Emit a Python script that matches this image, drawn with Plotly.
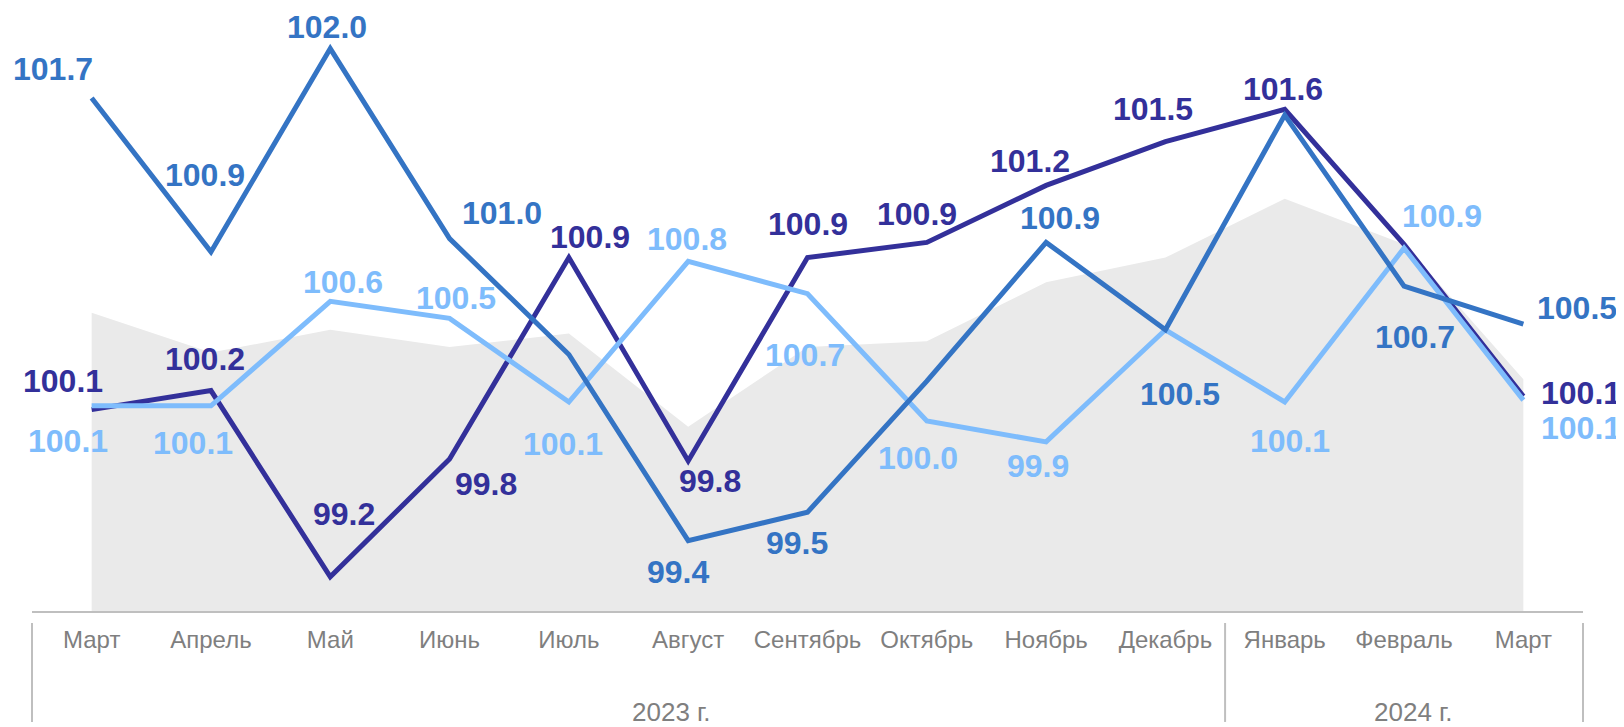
import plotly.graph_objects as go

# ---------------- data ----------------
months = ["Март", "Апрель", "Май", "Июнь", "Июль", "Август", "Сентябрь",
          "Октябрь", "Ноябрь", "Декабрь", "Январь", "Февраль", "Март"]
years = ["2023 г.", "2024 г."]
year_month_counts = [10, 3]

series_dark = [100.06, 100.16, 99.18, 99.80, 100.86, 99.79, 100.86,
               100.94, 101.24, 101.47, 101.64, 100.93, 100.13]
series_medium = [101.70, 100.89, 101.96, 100.96, 100.35, 99.37, 99.52,
                 100.21, 100.94, 100.48, 101.61, 100.71, 100.51]
series_light = [100.08, 100.08, 100.63, 100.54, 100.10, 100.84, 100.67,
                100.00, 99.89, 100.48, 100.10, 100.91, 100.11]
series_background = [100.57, 100.36, 100.48, 100.39, 100.46, 99.97, 100.39,
                     100.42, 100.73, 100.86, 101.17, 100.93, 100.22]

# ---------------- styling / layout ----------------
FONT = "Liberation Sans, Arial, sans-serif"
C_DARK = "#33309A"
C_MED = "#3474C4"
C_LIGHT = "#7EBCFC"
C_AREA = "#EAEAEA"
C_AXIS = "#BFBFBF"
C_TEXT = "#7F7F7F"

# the page body has an 8px default margin, so the figure is 8px smaller
W, H = 1616, 719
M_L, M_R, M_T, M_B = 24, 41, 0, 116
Y_MIN = 99.0
PX_PER_UNIT = 190.0
plot_h = H - M_T - M_B
Y_MAX = Y_MIN + plot_h / PX_PER_UNIT

# label offsets in pixels (dx right, dy down) relative to each point; None = no label
OFF_DARK = [(-29, -30), (-6, -33), (14, -64), (36, 24), (21, -22), (22, 19), (0, -35),
            (-10, -29), (-16, -25), (-12, -34), (-2, -21), None, (58, -4)]
OFF_MED = [(-39, -30), (-6, -78), (-3, -23), (52, -27), None, (-10, 30), (-11, 30),
           None, (14, -25), (15, 63), None, (11, 50), (54, -17)]
OFF_LIGHT = [(-24, 34), (-18, 36), (13, -20), (6, -21), (-6, 41), (-1, -23), (-3, 60),
             (-9, 36), (-8, 23), None, (5, 38), (38, -33), (58, 27)]
LABEL_SIZE = 32
LABEL_VSHIFT = -1  # compensate text box vs. cap-height centre

x = list(range(len(months)))

fig = go.Figure()

fig.add_trace(go.Scatter(
    x=x, y=series_background, mode="lines", fill="tozeroy",
    fillcolor=C_AREA, line=dict(width=0, color=C_AREA), hoverinfo="skip",
))

for vals, col in [(series_dark, C_DARK), (series_light, C_LIGHT), (series_medium, C_MED)]:
    fig.add_trace(go.Scatter(
        x=x, y=vals, mode="lines",
        line=dict(color=col, width=5),
    ))

annotations = []
for vals, col, offs in [(series_dark, C_DARK, OFF_DARK),
                        (series_medium, C_MED, OFF_MED),
                        (series_light, C_LIGHT, OFF_LIGHT)]:
    for i, (v, off) in enumerate(zip(vals, offs)):
        if off is None:
            continue
        dx, dy = off
        annotations.append(dict(
            x=i, y=v, xref="x", yref="y", text=f"{v:.1f}", showarrow=False,
            xanchor="center", yanchor="middle",
            xshift=dx, yshift=-dy + LABEL_VSHIFT,
            font=dict(family=FONT, size=LABEL_SIZE, color=col, weight="bold"),
        ))

# year group labels
YEAR_X = [0.4125, 0.891]
YEAR_Y = -0.1675
for label, px in zip(years, YEAR_X):
    annotations.append(dict(
        x=px, y=YEAR_Y, xref="paper", yref="paper", text=label, showarrow=False,
        xanchor="center", yanchor="middle",
        font=dict(family=FONT, size=26, color=C_TEXT),
    ))

# group dividers
n = len(months)
shapes = []
bounds = [0]
acc = 0
for c in year_month_counts:
    acc += c
    bounds.append(acc)
for b in bounds:
    xp = b / n
    shapes.append(dict(type="line", xref="paper", yref="paper",
                       x0=xp, x1=xp, y0=-0.0199, y1=-0.184,
                       line=dict(color=C_AXIS, width=2)))

fig.update_layout(
    width=W, height=H,
    margin=dict(l=M_L, r=M_R, t=M_T, b=M_B),
    paper_bgcolor="white", plot_bgcolor="white",
    showlegend=False,
    annotations=annotations,
    shapes=shapes,
    xaxis=dict(
        range=[-0.5, n - 0.5], tickmode="array", tickvals=x, ticktext=months,
        showgrid=False, zeroline=False, showline=True, linecolor=C_AXIS, linewidth=2,
        ticks="", ticklabelstandoff=6,
        tickfont=dict(family=FONT, size=24, color=C_TEXT),
    ),
    yaxis=dict(range=[Y_MIN, Y_MAX], visible=False, showgrid=False, zeroline=False),
)

fig.write_html("out.html")
